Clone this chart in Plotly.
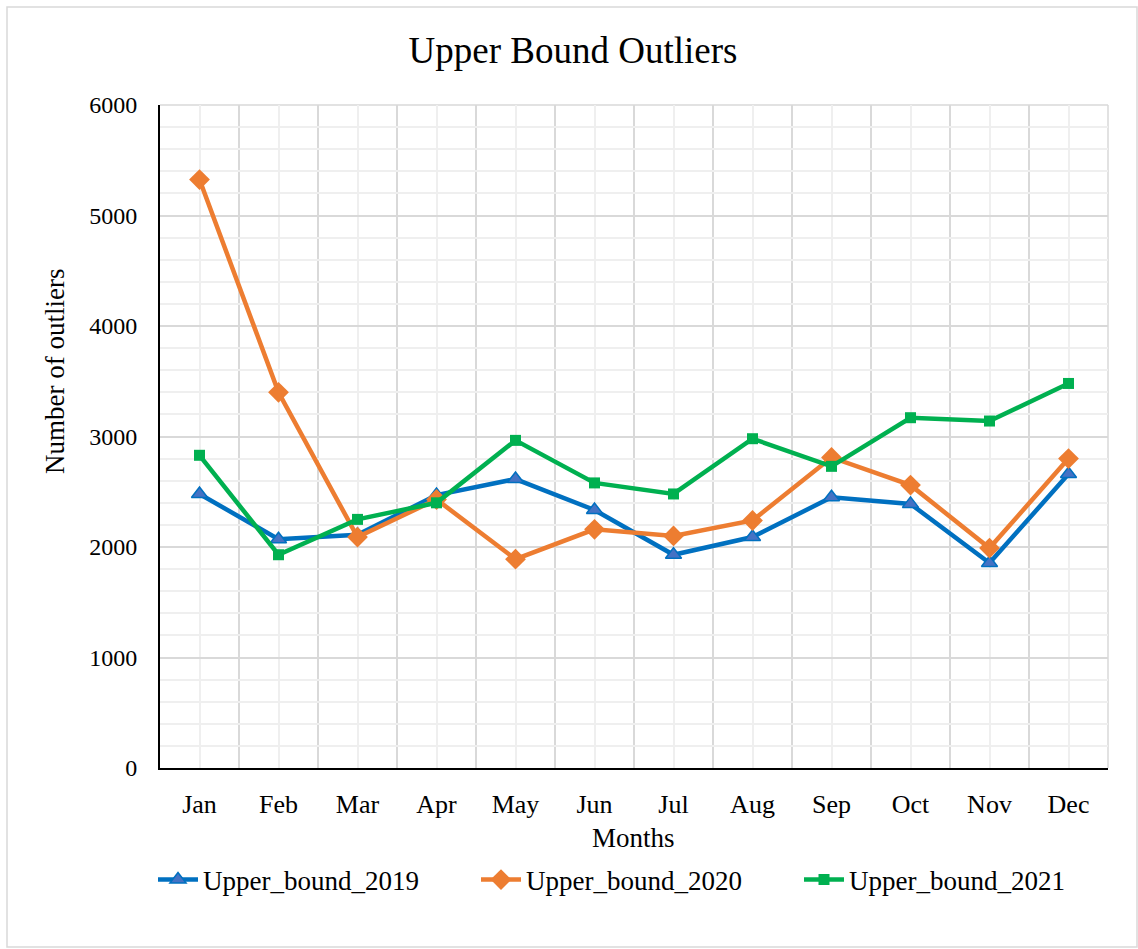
import plotly.graph_objects as go

months = ["Jan", "Feb", "Mar", "Apr", "May", "Jun", "Jul", "Aug", "Sep", "Oct", "Nov", "Dec"]
upper_2019 = [2480, 2070, 2110, 2470, 2615, 2335, 1930, 2090, 2450, 2390, 1855, 2660]
upper_2020 = [5325, 3400, 2090, 2430, 1890, 2160, 2100, 2240, 2810, 2560, 1990, 2800]
upper_2021 = [2830, 1930, 2250, 2400, 2965, 2580, 2480, 2980, 2730, 3170, 3140, 3480]

y_ticks = [0, 1000, 2000, 3000, 4000, 5000, 6000]

FONT = "Liberation Serif, Times New Roman, serif"
x_idx = list(range(len(months)))

fig = go.Figure()
fig.add_trace(go.Scatter(
    x=x_idx, y=upper_2019, name="Upper_bound_2019", mode="lines+markers",
    line=dict(color="#0070C0", width=4.5),
    marker=dict(symbol="triangle-up", size=14, color="#4472C4",
                line=dict(color="#0070C0", width=1.5)),
))
fig.add_trace(go.Scatter(
    x=x_idx, y=upper_2020, name="Upper_bound_2020", mode="lines+markers",
    line=dict(color="#ED7D31", width=4.5),
    marker=dict(symbol="diamond", size=16, color="#ED7D31"),
))
fig.add_trace(go.Scatter(
    x=x_idx, y=upper_2021, name="Upper_bound_2021", mode="lines+markers",
    line=dict(color="#00B050", width=4.5),
    marker=dict(symbol="square", size=11, color="#00B050"),
))

# plot area in pixels: x 160..1108, y 105..768
L, R, T, B = 160, 1108, 105, 768
W, H = 1138, 949
def px(x):
    return (x - L) / (R - L)
def py(y):
    return (B - y) / (B - T)

fig.update_layout(
    width=W, height=H,
    margin=dict(l=L, r=W - R, t=T, b=H - B, pad=0),
    paper_bgcolor="white", plot_bgcolor="white",
    font=dict(family=FONT, size=22, color="#000000"),
    title=dict(text="Upper Bound Outliers", x=px(573), xref="paper", xanchor="center",
               y=1 - 50 / H, yanchor="middle",
               font=dict(family=FONT, size=37, color="#000000")),
    showlegend=True,
    legend=dict(orientation="h", x=px(153), xanchor="left", y=py(880), yanchor="middle",
                font=dict(family=FONT, size=27, color="#000000"),
                itemwidth=40, entrywidth=268, entrywidthmode="pixels",
                tracegroupgap=0, bgcolor="rgba(0,0,0,0)"),
    xaxis=dict(
        range=[-0.5, 11.5], tickmode="array", tickvals=x_idx, ticktext=months,
        showgrid=True, gridcolor="#EFEFEF", gridwidth=1.5,
        minor=dict(tickmode="array", tickvals=[i + 0.5 for i in range(-1, 12)],
                   showgrid=True, gridcolor="#D9D9D9", gridwidth=1.5),
        showline=True, linecolor="#000000", linewidth=2,
        ticks="outside", ticklen=12, tickcolor="rgba(0,0,0,0)",
        tickfont=dict(family=FONT, size=26), zeroline=False, fixedrange=True,
    ),
    yaxis=dict(
        range=[0, 6000], tickmode="array", tickvals=y_ticks,
        ticktext=[str(v) for v in y_ticks],
        showgrid=True, gridcolor="#D9D9D9", gridwidth=1.5,
        minor=dict(dtick=200, tick0=0, showgrid=True, gridcolor="#EFEFEF", gridwidth=1.5),
        showline=True, linecolor="#000000", linewidth=2,
        ticks="outside", ticklen=16, tickcolor="rgba(0,0,0,0)",
        tickfont=dict(family=FONT, size=24), zeroline=False, fixedrange=True,
    ),
    annotations=[
        dict(text="Months", xref="paper", yref="paper", x=px(633), y=py(838),
             xanchor="center", yanchor="middle", showarrow=False,
             font=dict(family=FONT, size=27, color="#000000")),
        dict(text="Number of outliers", xref="paper", yref="paper", x=px(55), y=py(372),
             xanchor="center", yanchor="middle", showarrow=False, textangle=-90,
             font=dict(family=FONT, size=27, color="#000000")),
    ],
    shapes=[
        dict(type="rect", xref="paper", yref="paper", x0=px(7), x1=px(1137), y0=py(947), y1=py(7),
             line=dict(color="#D9D9D9", width=1.5), fillcolor="rgba(0,0,0,0)", layer="below"),
        # top and right edges of the plot area
        dict(type="line", xref="paper", yref="paper", x0=0, x1=1, y0=1, y1=1,
             line=dict(color="#D9D9D9", width=1.5), layer="below"),
        dict(type="line", xref="paper", yref="paper", x0=1, x1=1, y0=0, y1=1,
             line=dict(color="#D9D9D9", width=1.5), layer="below"),
    ],
)

fig.write_html("out.html")
